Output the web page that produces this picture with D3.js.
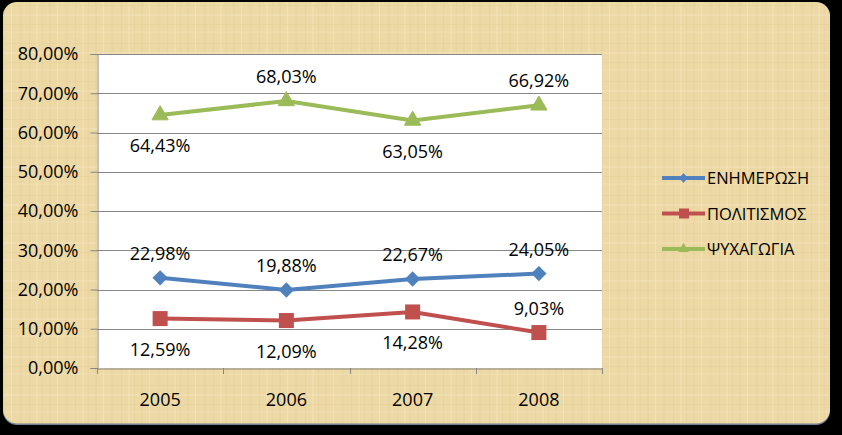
<!DOCTYPE html>
<html>
<head>
<meta charset="utf-8">
<script src="https://cdn.jsdelivr.net/npm/d3@7"></script>
<style>
  html, body { margin: 0; padding: 0; background: #000; }
  svg { display: block; }
  text { font-family: "Open Sans", "Noto Sans", sans-serif; fill: #000; }
</style>
</head>
<body>
<svg id="chart" width="842" height="435"></svg>
<script>
// ---- data ----
const years = ["2005", "2006", "2007", "2008"];
const seriesNames = ["ΕΝΗΜΕΡΩΣΗ", "ΠΟΛΙΤΙΣΜΟΣ", "ΨΥΧΑΓΩΓΙΑ"];
const enimerosi = [22.98, 19.88, 22.67, 24.05];
const politismos = [12.59, 12.09, 14.28, 9.03];
const psyxagogia = [64.43, 68.03, 63.05, 66.92];
const labelPlaceEnimerosi = ["above", "above", "above", "above"];
const labelPlacePolitismos = ["below", "below", "below", "above"];
const labelPlacePsyxagogia = ["below", "above", "below", "above"];
const yTicks = [0, 10, 20, 30, 40, 50, 60, 70, 80];

const fmt = v => v.toFixed(2).replace(".", ",") + "%";

const series = [
  { name: seriesNames[0], values: enimerosi, place: labelPlaceEnimerosi, color: "#4F81BD", marker: "diamond" },
  { name: seriesNames[1], values: politismos, place: labelPlacePolitismos, color: "#C0504D", marker: "square" },
  { name: seriesNames[2], values: psyxagogia, place: labelPlacePsyxagogia, color: "#9BBB59", marker: "triangle" }
];

const svg = d3.select("#chart");

// ---- papyrus-like background panel ----
const defs = svg.append("defs");
const pat = defs.append("pattern").attr("id", "papyrus")
  .attr("patternUnits", "userSpaceOnUse").attr("width", 46).attr("height", 38);
pat.append("rect").attr("width", 46).attr("height", 38).attr("fill", "#EDD9A6");
const vStripes = [[3, 2, "#E6D09A", 0.5], [11, 1, "#F5E6BE", 0.6], [19, 3, "#E8D39E", 0.5], [29, 1, "#E0C98F", 0.35], [36, 2, "#F3E3B8", 0.5], [42, 1, "#E4CD94", 0.4]];
vStripes.forEach(s => pat.append("rect").attr("x", s[0]).attr("y", 0).attr("width", s[1]).attr("height", 38).attr("fill", s[2]).attr("opacity", s[3]));
const hStripes = [[5, 1, "#E3CC91", 0.35], [14, 2, "#F4E5BC", 0.45], [24, 1, "#E1C98D", 0.3], [31, 2, "#F2E1B4", 0.45]];
hStripes.forEach(s => pat.append("rect").attr("x", 0).attr("y", s[0]).attr("width", 46).attr("height", s[1]).attr("fill", s[2]).attr("opacity", s[3]));

svg.append("rect").attr("x", 3).attr("y", 3).attr("width", 827).attr("height", 422)
  .attr("rx", 14).attr("ry", 14).attr("fill", "#6F8499");
svg.append("rect").attr("x", 3).attr("y", 2).attr("width", 827).attr("height", 421.5)
  .attr("rx", 14).attr("ry", 14).attr("fill", "url(#papyrus)");

// ---- plot area ----
const plot = { left: 97, right: 602, top: 54, bottom: 368 };
svg.append("rect").attr("x", plot.left).attr("y", plot.top)
  .attr("width", plot.right - plot.left).attr("height", plot.bottom - plot.top).attr("fill", "#fff");

const x = d3.scaleBand().domain(years).range([plot.left, plot.right]);
const y = d3.scaleLinear().domain([0, 80]).range([plot.bottom, plot.top]);

// gridlines
svg.append("g").selectAll("line").data(yTicks.filter(t => t > 0)).join("line")
  .attr("x1", plot.left).attr("x2", plot.right)
  .attr("y1", d => Math.round(y(d)) + 0.5).attr("y2", d => Math.round(y(d)) + 0.5)
  .attr("stroke", "#868686").attr("stroke-width", 1);

// y axis
const yAxis = svg.append("g").attr("transform", `translate(${plot.left + 0.5},0)`)
  .call(d3.axisLeft(y).tickValues(yTicks).tickSize(7).tickPadding(12).tickFormat(d => fmt(d)));
yAxis.select(".domain").attr("stroke", "#868686");
yAxis.selectAll(".tick line").attr("stroke", "#868686");
yAxis.selectAll(".tick text").attr("font-size", 18).attr("fill", "#000")
  .attr("font-family", '"Open Sans", sans-serif');

// x axis
const xAxis = svg.append("g").attr("transform", `translate(0,${plot.bottom + 0.5})`)
  .call(d3.axisBottom(x).tickSize(0).tickPadding(25));
xAxis.select(".domain").attr("stroke", "#868686");
xAxis.selectAll(".tick text").attr("font-size", 18).attr("fill", "#000")
  .attr("font-family", '"Open Sans", sans-serif');
// category boundary ticks
const bounds = years.map(d => x(d)).concat([x.range()[1]]);
svg.append("g").selectAll("line").data(bounds).join("line")
  .attr("x1", d => Math.round(d) + 0.5).attr("x2", d => Math.round(d) + 0.5)
  .attr("y1", plot.bottom).attr("y2", plot.bottom + 6)
  .attr("stroke", "#868686");

// ---- series ----
const cx = d => x(d) + x.bandwidth() / 2;
const line = d3.line().x((v, i) => cx(years[i])).y(v => y(v));

function drawMarker(g, type, color, px, py) {
  if (type === "diamond") {
    g.append("path").attr("d", d3.symbol(d3.symbolDiamond2, 150)())
      .attr("transform", `translate(${px},${py})`).attr("fill", color);
  } else if (type === "square") {
    g.append("rect").attr("x", px - 7.5).attr("y", py - 7.5).attr("width", 15).attr("height", 15).attr("fill", color);
  } else {
    g.append("path").attr("d", d3.symbol(d3.symbolTriangle, 115)())
      .attr("transform", `translate(${px},${py})`).attr("fill", color).attr("stroke", color).attr("stroke-width", 1);
  }
}

series.forEach(s => {
  const g = svg.append("g");
  g.append("path").attr("d", line(s.values)).attr("fill", "none")
    .attr("stroke", s.color).attr("stroke-width", 4).attr("stroke-linejoin", "round");
  s.values.forEach((v, i) => drawMarker(g, s.marker, s.color, cx(years[i]), y(v)));
});

// data labels
series.forEach(s => {
  svg.append("g").selectAll("text").data(s.values).join("text")
    .attr("x", (v, i) => cx(years[i]))
    .attr("y", (v, i) => y(v) + (s.place[i] === "above" ? -18 : 37))
    .attr("text-anchor", "middle").attr("font-size", 18)
    .text(v => fmt(v));
});

// ---- legend ----
const legend = svg.append("g");
series.forEach((s, i) => {
  const ly = 178 + i * 35.5;
  legend.append("line").attr("x1", 662).attr("x2", 705).attr("y1", ly).attr("y2", ly)
    .attr("stroke", s.color).attr("stroke-width", 4);
  if (s.marker === "diamond") {
    legend.append("path").attr("d", d3.symbol(d3.symbolDiamond2, 55)()).attr("transform", `translate(683.5,${ly})`).attr("fill", s.color);
  } else if (s.marker === "square") {
    legend.append("rect").attr("x", 679).attr("y", ly - 5).attr("width", 10).attr("height", 10).attr("fill", s.color);
  } else {
    legend.append("path").attr("d", d3.symbol(d3.symbolTriangle, 50)()).attr("transform", `translate(683.5,${ly})`).attr("fill", s.color);
  }
  legend.append("text").attr("x", 707).attr("y", ly + 6).attr("font-size", 16.5).text(s.name);
});
</script>
</body>
</html>
